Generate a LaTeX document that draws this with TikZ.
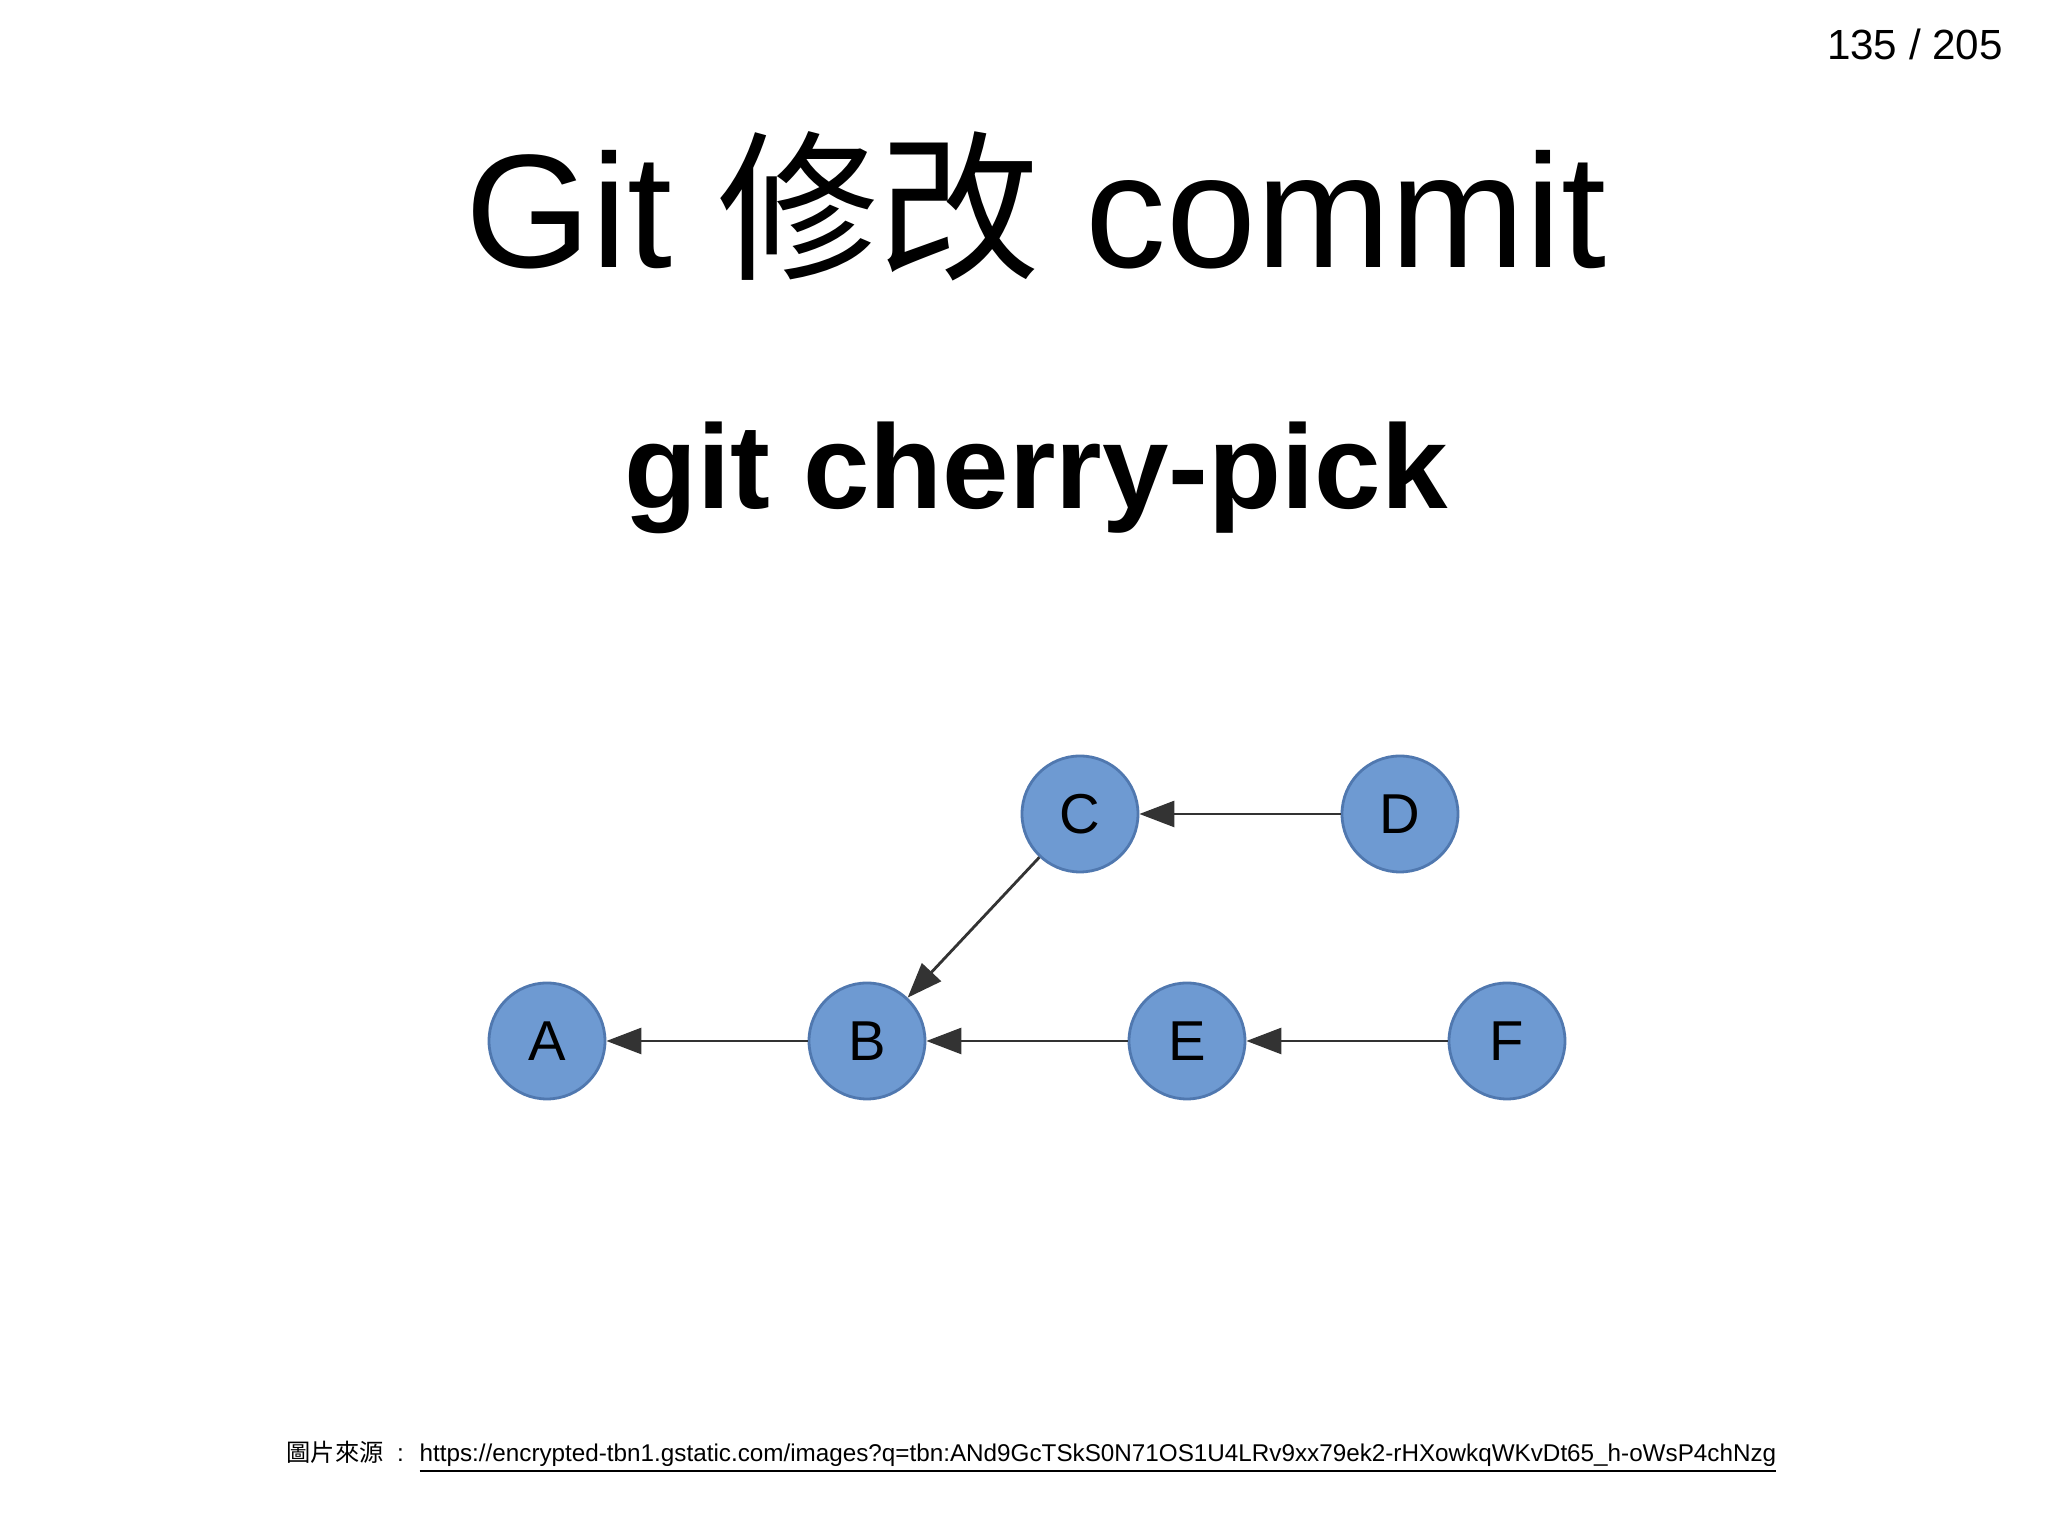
\documentclass[tikz,border=0pt]{standalone}
\usepackage{fontspec}
\setmainfont{Liberation Sans}
\newfontfamily\cjk{Noto Sans CJK SC}
\usetikzlibrary{arrows.meta}
\begin{document}
\begin{tikzpicture}[x=1cm,y=1cm,
  commit/.style={circle,draw={rgb,255:red,80;green,120;blue,175},line width=0.8pt,fill={rgb,255:red,110;green,154;blue,210},minimum size=1.16cm,inner sep=0pt,font=\fontsize{16}{18}\selectfont},
  edge/.style={draw=black!80,line width=0.8pt,-{Triangle[length=0.35cm,width=0.26cm]}}]
\useasboundingbox (0,0) rectangle (20.48,15.36);
\node (pg) at (19.15,14.92) {\fontsize{12}{14}\selectfont 135 / 205};
\node (title) at (10.36,13.3) {\fontsize{46}{52}\selectfont Git {\cjk 修改} commit};
\node (sub) at (10.36,10.58) {\fontsize{34}{40}\selectfont\bfseries git cherry-pick};
\node[commit] (A) at (5.47,4.95) {A};
\node[commit] (B) at (8.67,4.95) {B};
\node[commit] (E) at (11.87,4.95) {E};
\node[commit] (F) at (15.07,4.95) {F};
\node[commit] (C) at (10.80,7.22) {C};
\node[commit] (D) at (14.00,7.22) {D};
\draw[edge] (D) -- (C);
\draw[edge] (C) -- (B);
\draw[edge] (F) -- (E);
\draw[edge] (E) -- (B);
\draw[edge] (B) -- (A);
\node[anchor=west,inner sep=0pt] (src) at (2.86,0.79) {\fontsize{6.9}{9}\selectfont{\cjk 圖片來源} \ : \ \underline{https://encrypted-tbn1.gstatic.com/images?q=tbn:ANd9GcTSkS0N71OS1U4LRv9xx79ek2-rHXowkqWKvDt65\_h-oWsP4chNzg}};
\end{tikzpicture}
\end{document}
